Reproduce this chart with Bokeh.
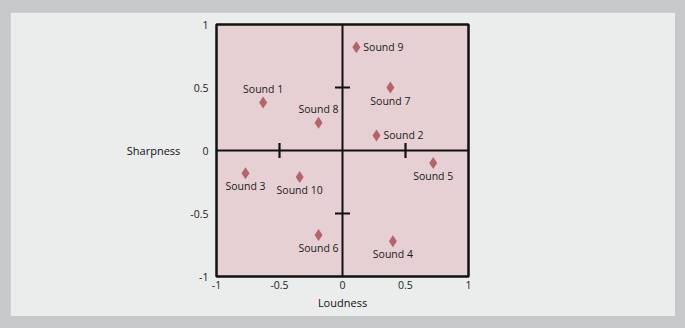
import math
from bokeh.plotting import figure
from bokeh.layouts import column
from bokeh.models import Range1d, FixedTicker, Span, ColumnDataSource
from bokeh.core.properties import value
from bokeh.embed import file_html
from bokeh.resources import INLINE

# ---- data ----
sounds = ["Sound 1", "Sound 2", "Sound 3", "Sound 4", "Sound 5",
          "Sound 6", "Sound 7", "Sound 8", "Sound 9", "Sound 10"]
loudness = [-0.63, 0.27, -0.77, 0.40, 0.72, -0.19, 0.38, -0.19, 0.11, -0.34]
sharpness = [0.38, 0.12, -0.18, -0.72, -0.10, -0.67, 0.50, 0.22, 0.82, -0.21]
label_side = ["above", "right", "below", "below", "below",
              "below", "below", "above", "right", "below"]
tick_values = [-1, -0.5, 0, 0.5, 1]
tick_labels = ["-1", "-0.5", "0", "0.5", "1"]
cross_ticks = [-0.5, 0.5]

FONT = "Open Sans"

fig = figure(width=665, height=304, output_backend="svg", toolbar_location=None,
             x_range=Range1d(-1, 1), y_range=Range1d(-1, 1),
             min_border_left=206, min_border_right=207,
             min_border_top=12, min_border_bottom=40)

fig.background_fill_color = "#e6d0d3"
fig.border_fill_color = "#ebecec"
fig.outline_line_color = "#111111"
fig.outline_line_width = 2.5
fig.grid.visible = False

for ax in (fig.xaxis[0], fig.yaxis[0]):
    ax.ticker = FixedTicker(ticks=tick_values)
    ax.major_label_overrides = {v: l for v, l in zip(tick_values, tick_labels)}
    ax.axis_line_color = None
    ax.major_tick_line_color = None
    ax.major_tick_out = 0
    ax.major_tick_in = 0
    ax.minor_tick_line_color = None
    ax.minor_tick_out = 0
    ax.major_label_text_font = FONT
    ax.major_label_text_font_size = "10.5px"
    ax.major_label_text_color = "#222222"
    ax.axis_label_text_font = FONT
    ax.axis_label_text_font_size = "11px"
    ax.axis_label_text_font_style = "normal"
    ax.axis_label_text_color = "#111111"

fig.xaxis.axis_label = "Loudness"
fig.xaxis.major_label_standoff = 4
fig.xaxis.axis_label_standoff = 3
fig.yaxis.axis_label = "Sharpness"
fig.yaxis.axis_label_orientation = "horizontal"
fig.yaxis.major_label_standoff = 8
fig.yaxis.axis_label_standoff = 7

# centre cross lines
fig.add_layout(Span(location=0, dimension="height", line_color="#111111", line_width=2))
fig.add_layout(Span(location=0, dimension="width", line_color="#111111", line_width=2))
fig.scatter(x=cross_ticks, y=[0] * len(cross_ticks), marker="dash", size=15,
            angle=math.pi / 2, line_color="#111111", line_width=2.2)
fig.scatter(x=[0] * len(cross_ticks), y=cross_ticks, marker="dash", size=15,
            line_color="#111111", line_width=2.2)

# points
x_off, y_off, align, base = [], [], [], []
for s in label_side:
    if s == "right":
        x_off.append(7); y_off.append(0); align.append("left"); base.append("middle")
    elif s == "above":
        x_off.append(0); y_off.append(-7); align.append("center"); base.append("bottom")
    else:
        x_off.append(0); y_off.append(6); align.append("center"); base.append("top")

src = ColumnDataSource(dict(x=loudness, y=sharpness, name=sounds,
                            xo=x_off, yo=y_off, al=align, bl=base))
fig.scatter("x", "y", source=src, marker="diamond", size=12,
            fill_color="#b3646d", line_color=None)
fig.text("x", "y", text="name", source=src, x_offset="xo", y_offset="yo",
         text_align="al", text_baseline="bl", text_font=value(FONT),
         text_font_size="10.5px", text_color="#1a1a1a")

p = column(fig, styles={"background-color": "#c6c8c9", "padding": "12px 10px 12px 10px"})

open("out.html", "w").write(file_html(p, INLINE))
